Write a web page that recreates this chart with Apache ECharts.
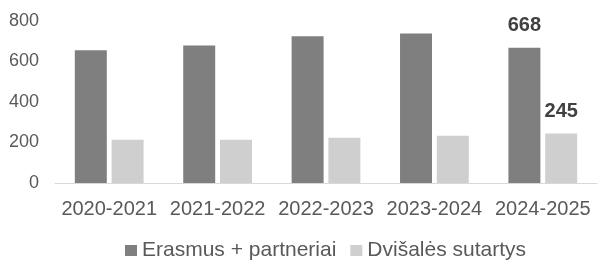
<!DOCTYPE html>
<html>
<head>
<meta charset="utf-8">
<script src="https://cdn.jsdelivr.net/npm/echarts@6/dist/echarts.min.js"></script>
<style>
  html, body { margin: 0; padding: 0; background: #fff; }
  #chart { width: 600px; height: 266px; }
</style>
</head>
<body>
<div id="chart"></div>
<script>
(function(){
  // Mokslo metai ir mainų skaičiai
  const categories = ["2020-2021", "2021-2022", "2022-2023", "2023-2024", "2024-2025"];
  const erasmus = [656, 679, 725, 738, 668];
  const dvisales = [214, 213, 224, 233, 245];
  const yTicks = [0, 200, 400, 600, 800];

  const labelled = categories.length - 1; // tik paskutiniai metai su reikšme

  const fontFamily = "Liberation Sans, Arial, sans-serif";
  const withLabel = (arr) => arr.map((v, i) => i === labelled
    ? { value: v, label: { show: true } }
    : v);

  const chart = echarts.init(document.getElementById("chart"));

  chart.setOption({
    animation: false,
    textStyle: { fontFamily: fontFamily },
    grid: { left: 55, right: 3, top: 21, bottom: 83 },
    legend: {
      bottom: 0,
      left: 120,
      icon: "rect",
      itemWidth: 12,
      itemHeight: 11,
      itemGap: 14,
      textStyle: { color: "#595959", fontSize: 21, fontFamily: fontFamily }
    },
    xAxis: {
      type: "category",
      data: categories,
      axisTick: { show: false },
      axisLine: { lineStyle: { color: "#d9d9d9", width: 1 } },
      axisLabel: { color: "#595959", fontSize: 20, margin: 16, interval: 0 }
    },
    yAxis: {
      type: "value",
      min: yTicks[0],
      max: yTicks[yTicks.length - 1],
      interval: yTicks[1] - yTicks[0],
      splitLine: { show: false },
      axisLabel: { color: "#595959", fontSize: 18, margin: 16 }
    },
    series: [
      {
        name: "Erasmus + partneriai",
        type: "bar",
        data: withLabel(erasmus),
        barWidth: "29.5%",
        barGap: "15%",
        itemStyle: { color: "#7f7f7f" },
        label: { show: false, position: "top", distance: 12, color: "#404040", fontSize: 20, fontWeight: "bold" }
      },
      {
        name: "Dvišalės sutartys",
        type: "bar",
        data: withLabel(dvisales),
        barWidth: "29.5%",
        itemStyle: { color: "#d0cfd0" },
        label: { show: false, position: "top", distance: 12, color: "#404040", fontSize: 20, fontWeight: "bold" }
      }
    ]
  });

  window.addEventListener("resize", () => chart.resize());
})();
</script>
</body>
</html>
